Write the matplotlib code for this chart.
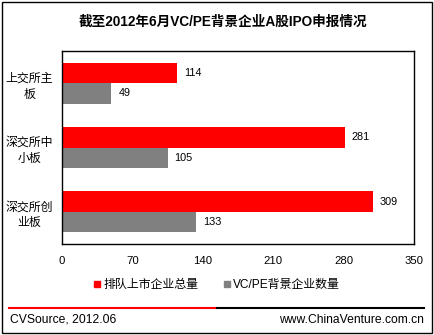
"""Recreate the VC/PE A-share IPO filing chart."""
import matplotlib
matplotlib.use("Agg")
import matplotlib.pyplot as plt
from matplotlib.lines import Line2D
from matplotlib.patches import Rectangle
import numpy as np

plt.rcParams["font.family"] = ["Liberation Sans", "Noto Sans CJK SC"]

categories = ["上交所主\n板", "深交所中\n小板", "深交所创\n业板"]
total_queue = [114, 281, 309]
vcpe_backed = [49, 105, 133]
series_names = ["排队上市企业总量", "VC/PE背景企业数量"]
xticks = [0, 70, 140, 210, 280, 350]

W, H = 435, 335
fig = plt.figure(figsize=(W / 100, H / 100), dpi=100)


def fx(px):
    return px / W


def fy(py):
    return 1 - py / H


# outer frame
fig.patches.append(Rectangle((fx(2), fy(333)), fx(430), (331) / H, transform=fig.transFigure,
                             fill=False, edgecolor="black", linewidth=1.0))

ax = fig.add_axes([fx(62), fy(244), fx(352), (244 - 51) / H])
y = np.arange(len(categories))
h = 0.32
ax.barh(y - h / 2, total_queue, height=h, color="#ff0000")
ax.barh(y + h / 2, vcpe_backed, height=h, color="#808080")
for yi, v in zip(y, total_queue):
    ax.text(v + 7, yi - h / 2, str(v), va="center", ha="left", fontsize=7.8)
for yi, v in zip(y, vcpe_backed):
    ax.text(v + 7, yi + h / 2, str(v), va="center", ha="left", fontsize=7.8)

ax.set_xlim(0, 350)
ax.set_ylim(len(categories) - 0.5, -0.5)
ax.set_xticks(xticks)
ax.set_yticks(y)
ax.set_yticklabels(categories, fontsize=8.6, ha="center", linespacing=1.45)
ax.tick_params(axis="y", length=0, pad=23.5)
ax.tick_params(axis="x", length=0, pad=9, labelsize=8.2)
for s in ax.spines.values():
    s.set_linewidth(1.0)

fig.text(fx(223), fy(22), "截至2012年6月VC/PE背景企业A股IPO申报情况", ha="center", va="center",
         fontsize=9.8, fontweight="bold")

handles = [Line2D([], [], marker="s", linestyle="", color="#ff0000", markersize=5),
           Line2D([], [], marker="s", linestyle="", color="#808080", markersize=5)]
fig.legend(handles, series_names, loc="center", bbox_to_anchor=(fx(216), fy(285)), ncol=2,
           frameon=False, fontsize=8.6, handletextpad=0.1, columnspacing=2.0, handlelength=0.8)

fig.add_artist(Line2D([fx(9), fx(217)], [fy(308), fy(308)], color="#ff0000", linewidth=1.5))
fig.add_artist(Line2D([fx(217), fx(424)], [fy(308), fy(308)], color="black", linewidth=1.5))
fig.text(fx(10), fy(320), "CVSource, 2012.06", ha="left", va="center", fontsize=8.7)
fig.text(fx(424), fy(320), "www.ChinaVenture.com.cn", ha="right", va="center", fontsize=8.7)

fig.savefig("out.png", dpi=100)
plt.close(fig)
